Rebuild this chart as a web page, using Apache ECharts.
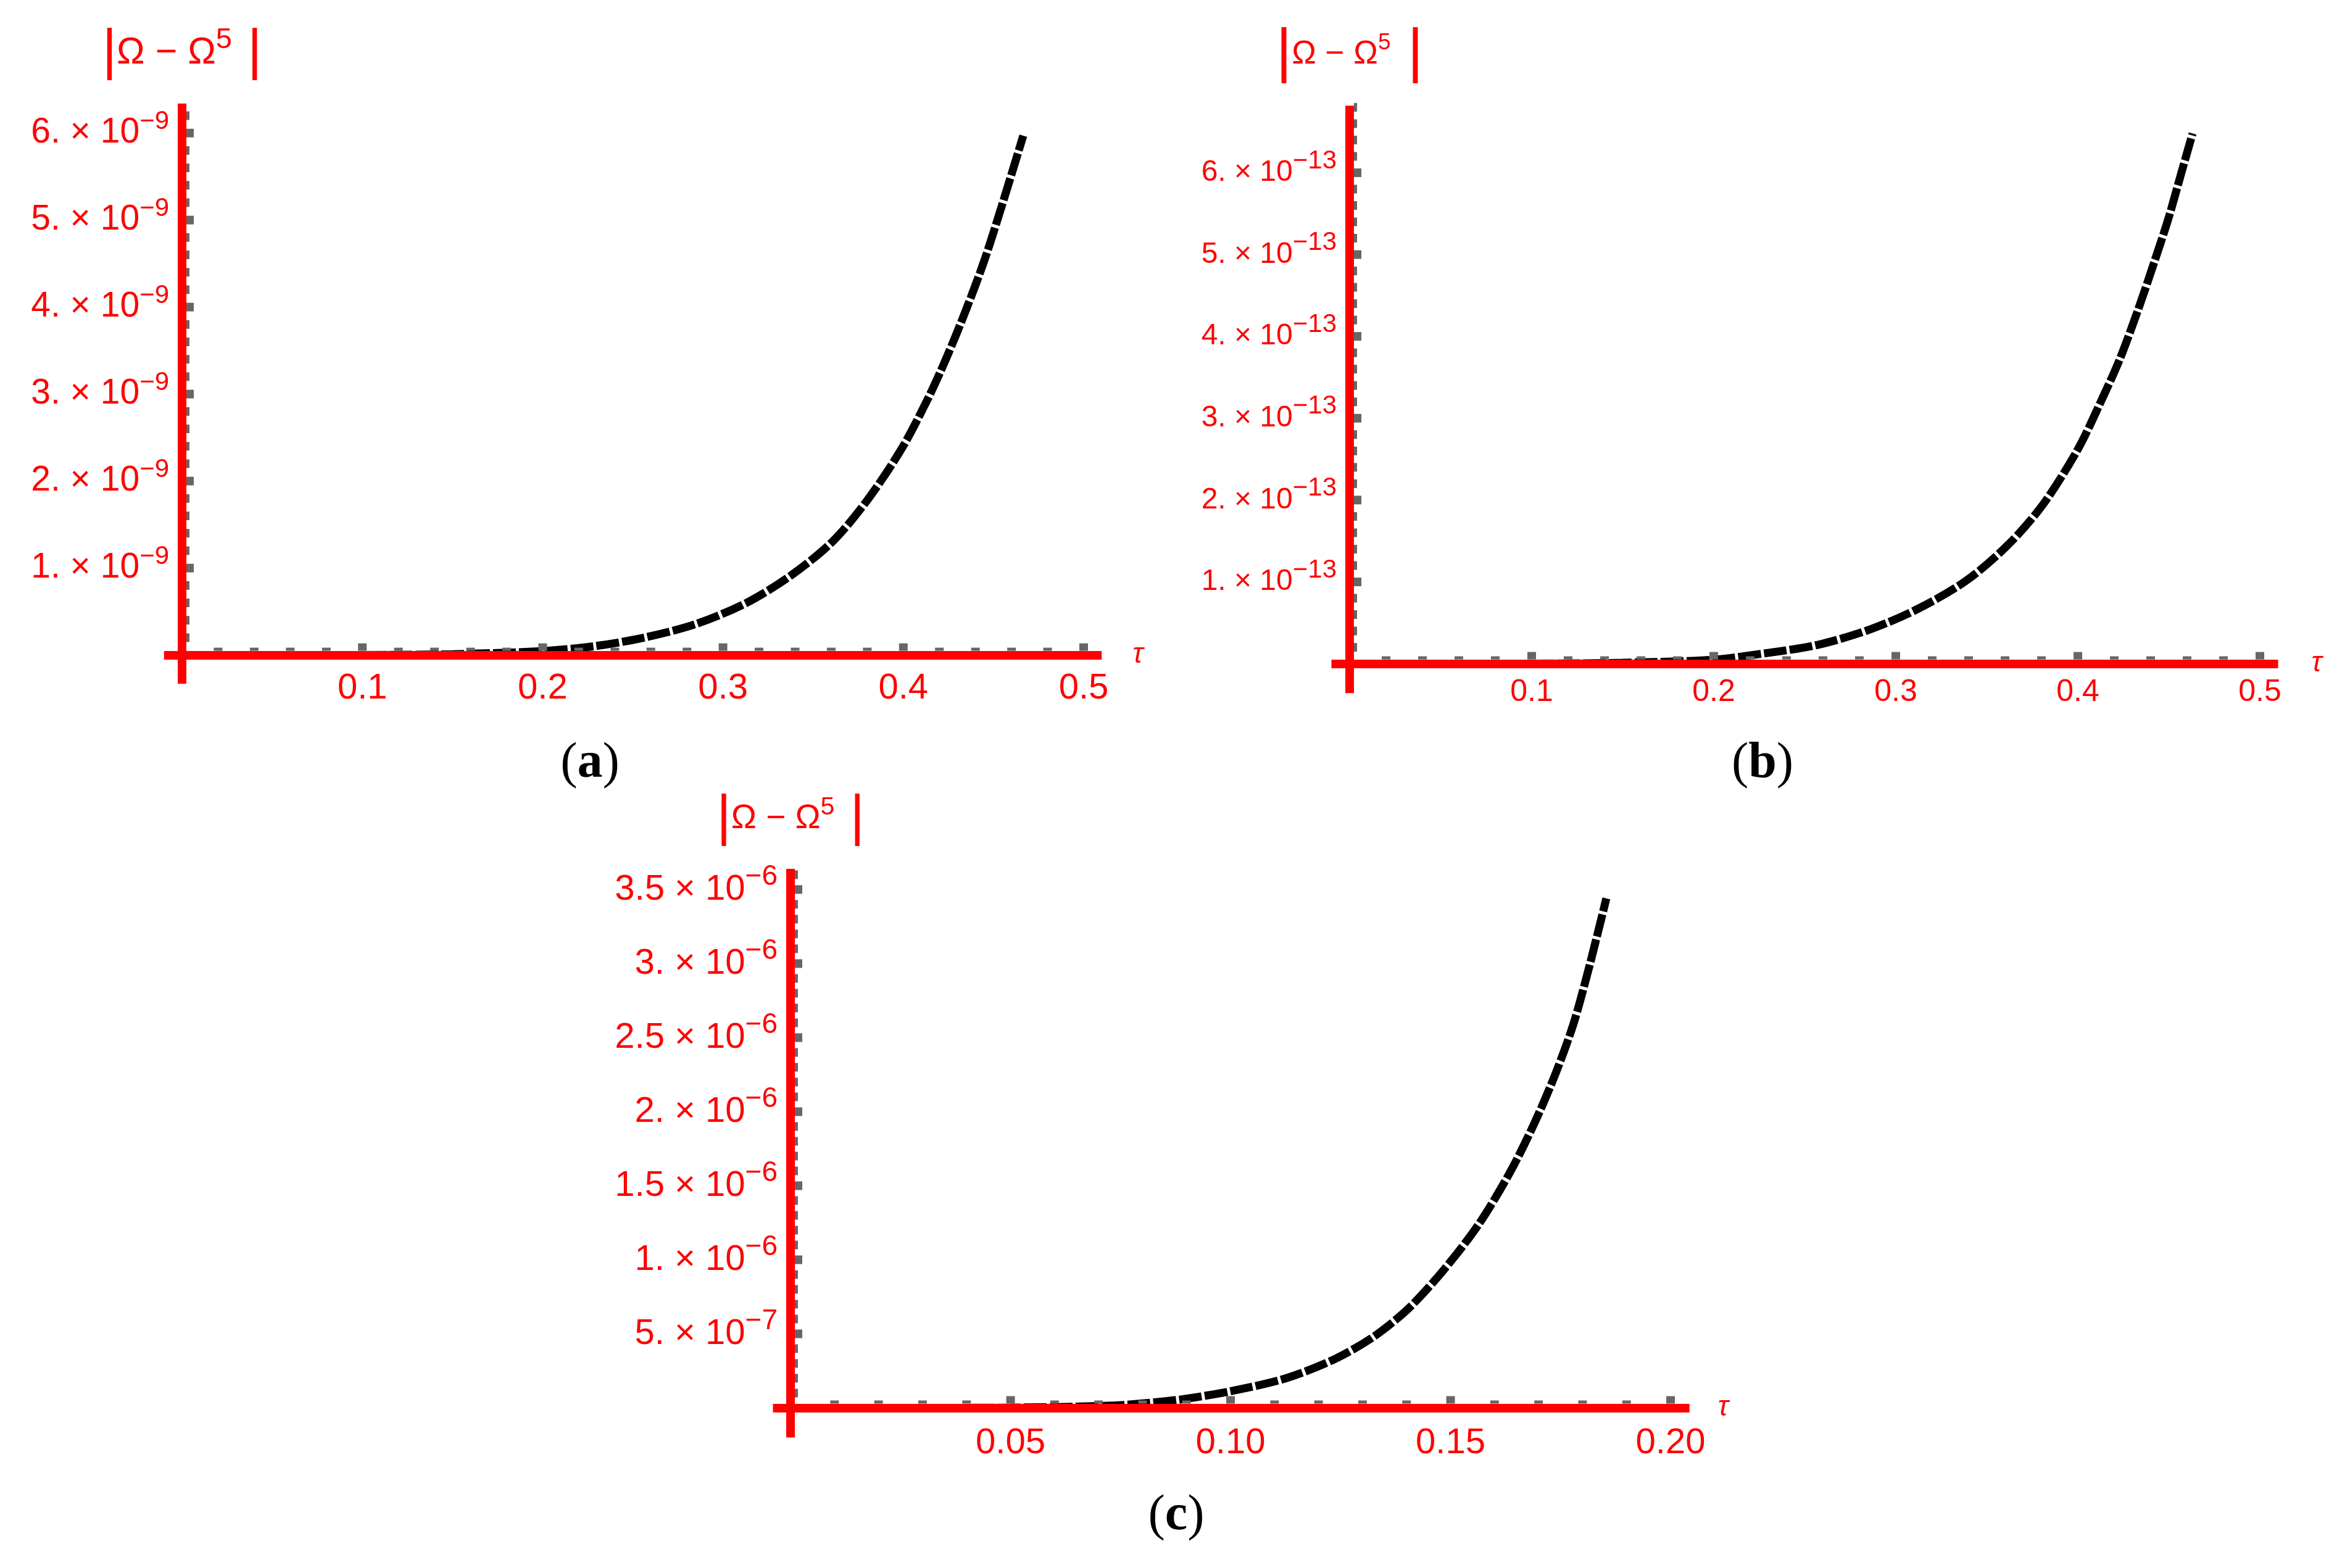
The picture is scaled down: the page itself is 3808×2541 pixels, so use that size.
<!DOCTYPE html>
<html>
<head>
<meta charset="utf-8">
<title>|Ω − Ω5| vs τ</title>
<script src="https://cdn.jsdelivr.net/npm/echarts@6.0.0/dist/echarts.min.js"></script>
<style>
  html, body { margin: 0; padding: 0; background: #fff; }
  #chart { width: 3808px; height: 2541px; }
</style>
</head>
<body>
<div id="chart"></div>
<script>
// (a) |Ω - Ω^5| in units of 1e-9
var tauA = [0, 0.05, 0.1, 0.15, 0.199, 0.228, 0.256, 0.285, 0.313, 0.338, 0.361, 0.380, 0.399, 0.413, 0.424, 0.435, 0.445, 0.455, 0.4665];
var errA = [0, 0, 0.001, 0.01, 0.045, 0.10, 0.20, 0.357, 0.60, 0.92, 1.31, 1.78, 2.37, 2.92, 3.42, 3.98, 4.54, 5.19, 5.97];
// (b) units of 1e-13
var tauB = [0, 0.05, 0.1, 0.15, 0.200, 0.229, 0.257, 0.286, 0.313, 0.339, 0.362, 0.381, 0.400, 0.413, 0.423, 0.433, 0.442, 0.450, 0.457, 0.463];
var errB = [0, 0, 0.001, 0.012, 0.05, 0.13, 0.23, 0.42, 0.68, 1.02, 1.46, 1.95, 2.62, 3.22, 3.72, 4.32, 4.91, 5.46, 6.01, 6.48];
// (c) units of 1e-6
var tauC = [0, 0.03, 0.05, 0.065, 0.0768, 0.0887, 0.1006, 0.1126, 0.1237, 0.1325, 0.1404, 0.1484, 0.1564, 0.1635, 0.1691, 0.1739, 0.1779, 0.1810, 0.1834, 0.1854];
var errC = [0, 0, 0.002, 0.008, 0.022, 0.057, 0.116, 0.20, 0.33, 0.48, 0.67, 0.93, 1.24, 1.59, 1.925, 2.26, 2.59, 2.92, 3.20, 3.44];

// tick labels
var xTicksA = [0.1, 0.2, 0.3, 0.4, 0.5];
var yTicksA = [1, 2, 3, 4, 5, 6];
var xTicksB = [0.1, 0.2, 0.3, 0.4, 0.5];
var yTicksB = [1, 2, 3, 4, 5, 6];
var xTicksC = [0.05, 0.1, 0.15, 0.2];
var yTicksC = [0.5, 1, 1.5, 2, 2.5, 3, 3.5];

var captions = ['a', 'b', 'c'];

var RED = '#ff0000';
var GRAY = '#666666';
var SANS = 'Liberation Sans';

// minor ticks between majors (like minorTick splitNumber)
function minorTicks(from, to, step, majors) {
  var out = [];
  var n = Math.round((to - from) / step);
  for (var i = 0; i <= n; i++) {
    var v = +(from + i * step).toFixed(6);
    if (majors.indexOf(v) < 0) out.push(v);
  }
  return out;
}

function sciFormatter(exp) {
  return function (v) {
    var m = v, e = exp;
    if (m < 1) { m = Math.round(m * 10 * 1000) / 1000; e -= 1; }
    var ms = (m % 1 === 0) ? m + '.' : String(m);
    return '{m|' + ms + ' × 10}{s|−' + Math.abs(e) + '}';
  };
}

var panels = [
  {
    grid: { left: 265.8, top: 167.7, width: 1519.4, height: 940.4 },
    xRange: [-0.01, 0.51], yRange: [-0.33, 6.34],
    tau: tauA, err: errA, xTicks: xTicksA, yTicks: yTicksA,
    xMinor: minorTicks(0.02, 0.5, 0.02, xTicksA), yMinor: minorTicks(0.2, 6.2, 0.2, yTicksA),
    exp: -9, xDigits: 1, xFont: 58, xMargin: 25, yFont: 57, supFont: 42, supRaise: 18,
    nameFont: 61, nameSup: 47, nameRaise: 21, barFont: 90, nameGap: 37, tauGap: 50,
    caption: [956, 1238]
  },
  {
    grid: { left: 2157.5, top: 171.2, width: 1534, height: 952.1 },
    xRange: [-0.01, 0.51], yRange: [-0.36, 6.82],
    tau: tauB, err: errB, xTicks: xTicksB, yTicks: yTicksB,
    xMinor: minorTicks(0.02, 0.5, 0.02, xTicksB), yMinor: minorTicks(0.2, 6.8, 0.2, yTicksB),
    exp: -13, xDigits: 1, xFont: 50, xMargin: 22, yFont: 48, supFont: 42, supRaise: 19,
    nameFont: 53, nameSup: 37, nameRaise: 18, barFont: 98, nameGap: 34, tauGap: 54,
    caption: [2856, 1238]
  },
  {
    grid: { left: 1252.5, top: 1407.9, width: 1485.2, height: 921.6 },
    xRange: [-0.004, 0.2043], yRange: [-0.2, 3.64],
    tau: tauC, err: errC, xTicks: xTicksC, yTicks: yTicksC,
    xMinor: minorTicks(0.01, 0.2, 0.01, xTicksC), yMinor: minorTicks(0.1, 3.6, 0.1, yTicksC),
    exp: -6, xDigits: 2, xFont: 58, xMargin: 28, yFont: 58, supFont: 46, supRaise: 20,
    nameFont: 55, nameSup: 41, nameRaise: 18, barFont: 90, nameGap: 36, tauGap: 46,
    caption: [1906, 2457]
  }
];

var chart = echarts.init(document.getElementById('chart'));

var grids = [], xAxes = [], yAxes = [], series = [], graphics = [];
var LINE_W = 14;
var TICK_W = 14;

panels.forEach(function (p, i) {
  grids.push({
    left: p.grid.left, top: p.grid.top, width: p.grid.width, height: p.grid.height,
    containLabel: false, outerBoundsMode: 'none'
  });

  // labels are laid out from the grid edge, not from the zero line: shift them back
  var dropX = -p.yRange[0] / (p.yRange[1] - p.yRange[0]) * p.grid.height;
  var dropY = -p.xRange[0] / (p.xRange[1] - p.xRange[0]) * p.grid.width;

  xAxes.push({
    gridIndex: i, type: 'value', min: p.xRange[0], max: p.xRange[1], z: 3,
    name: 'τ', nameLocation: 'end', nameGap: p.tauGap,
    nameTextStyle: { color: RED, fontFamily: SANS, fontStyle: 'italic', fontSize: 46, padding: [12, 0, 0, 0] },
    axisLine: { show: true, onZero: true, lineStyle: { color: RED, width: LINE_W, cap: 'butt' } },
    axisTick: { show: false },
    splitLine: { show: false },
    axisLabel: {
      customValues: p.xTicks, margin: p.xMargin - dropX, color: RED, fontFamily: SANS, fontSize: p.xFont,
      formatter: function (v) { return v.toFixed(p.xDigits); }
    }
  });

  yAxes.push({
    gridIndex: i, type: 'value', min: p.yRange[0], max: p.yRange[1], z: 3,
    name: '{b||}{m|Ω − Ω}{s|5}{b| |}', nameLocation: 'end', nameGap: p.nameGap,
    nameTextStyle: {
      color: RED, fontFamily: SANS,
      rich: {
        b: { color: RED, fontFamily: SANS, fontSize: p.barFont },
        m: { color: RED, fontFamily: SANS, fontSize: p.nameFont },
        s: { color: RED, fontFamily: SANS, fontSize: p.nameSup, padding: [0, 0, 2 * p.nameRaise, 0] }
      }
    },
    axisLine: { show: true, onZero: true, lineStyle: { color: RED, width: LINE_W, cap: 'butt' } },
    axisTick: { show: false },
    splitLine: { show: false },
    axisLabel: {
      customValues: p.yTicks, margin: 21 - dropY, color: RED,
      formatter: sciFormatter(p.exp),
      rich: {
        m: { color: RED, fontFamily: SANS, fontSize: p.yFont },
        s: { color: RED, fontFamily: SANS, fontSize: p.supFont, padding: [0, 0, 2 * p.supRaise, 0] }
      }
    }
  });

  // the dashed curve
  series.push({
    type: 'line', xAxisIndex: i, yAxisIndex: i, z: 2,
    data: p.tau.map(function (t, k) { return [t, p.err[k]]; }),
    showSymbol: false, smooth: 0.3, silent: true,
    lineStyle: { color: '#000', width: 13, type: [37, 5], cap: 'butt' }
  });

  // gray tick marks sitting just outside the red axis lines
  var half = LINE_W / 2;
  var tickStyle = { color: GRAY, opacity: 1 };
  series.push({
    type: 'scatter', xAxisIndex: i, yAxisIndex: i, z: 4, silent: true,
    symbol: 'rect', symbolSize: [TICK_W, 12], symbolOffset: [0, -(half + 6)],
    itemStyle: tickStyle, emphasis: { disabled: true },
    data: p.xTicks.map(function (t) { return [t, 0]; })
  });
  series.push({
    type: 'scatter', xAxisIndex: i, yAxisIndex: i, z: 4, silent: true,
    symbol: 'rect', symbolSize: [TICK_W, 5], symbolOffset: [0, -(half + 2.5)],
    itemStyle: tickStyle, emphasis: { disabled: true },
    data: p.xMinor.map(function (t) { return [t, 0]; })
  });
  series.push({
    type: 'scatter', xAxisIndex: i, yAxisIndex: i, z: 4, silent: true,
    symbol: 'rect', symbolSize: [12, TICK_W], symbolOffset: [half + 6, 0],
    itemStyle: tickStyle, emphasis: { disabled: true },
    data: p.yTicks.map(function (v) { return [0, v]; })
  });
  series.push({
    type: 'scatter', xAxisIndex: i, yAxisIndex: i, z: 4, silent: true,
    symbol: 'rect', symbolSize: [5, TICK_W], symbolOffset: [half + 2.5, 0],
    itemStyle: tickStyle, emphasis: { disabled: true },
    data: p.yMinor.map(function (v) { return [0, v]; })
  });

  graphics.push({
    type: 'text', x: p.caption[0], y: p.caption[1],
    style: {
      text: '{p|(}{c|' + captions[i] + '}{p|)}',
      align: 'center', verticalAlign: 'middle',
      rich: {
        p: { fontFamily: 'Liberation Serif', fontSize: 82, fill: '#000' },
        c: { fontFamily: 'Liberation Serif', fontSize: 82, fontWeight: 'bold', fill: '#000' }
      }
    }
  });
});

chart.setOption({
  animation: false,
  backgroundColor: '#ffffff',
  grid: grids,
  xAxis: xAxes,
  yAxis: yAxes,
  series: series,
  graphic: graphics
});

window.addEventListener('resize', function () {
  chart.resize();
});
</script>
</body>
</html>
